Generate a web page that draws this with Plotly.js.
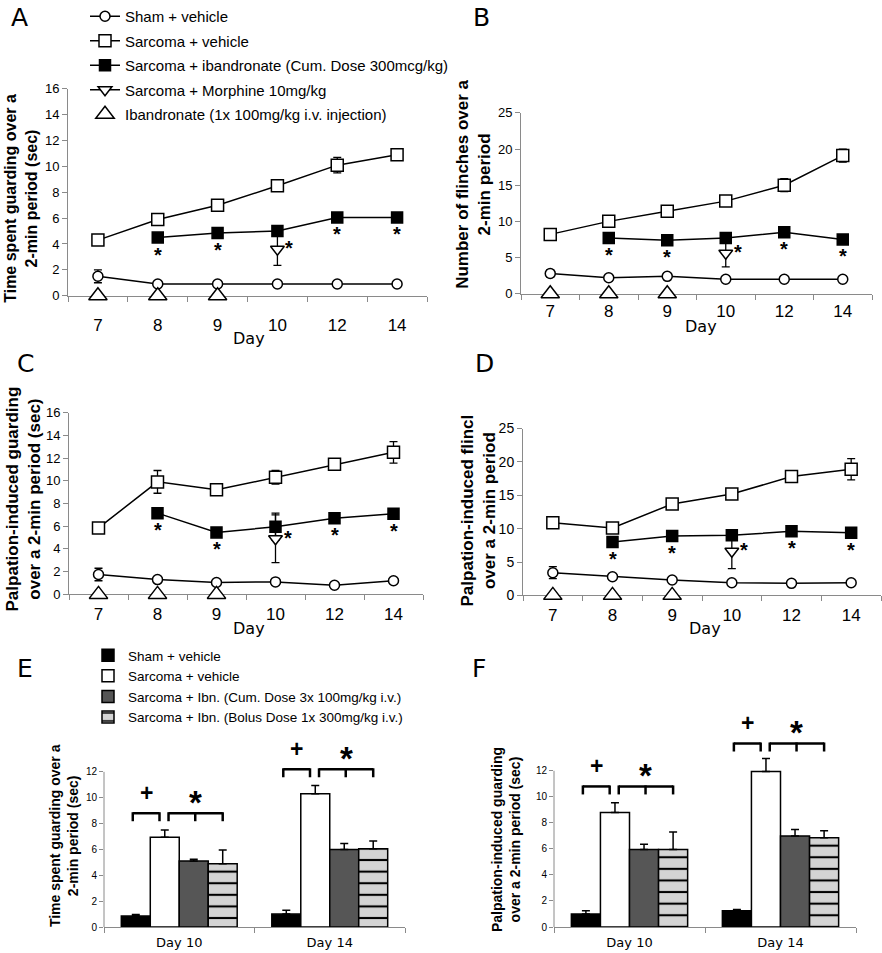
<!DOCTYPE html>
<html><head><meta charset="utf-8">
<script src="https://cdn.plot.ly/plotly-3.0.1.min.js"></script>
<style>html,body{margin:0;padding:0;background:#fff}#chart{width:882px;height:953px}</style>
</head><body><div id="chart"></div>
<script>
// ---------------- data ----------------
const days = ['7', '8', '9', '10', '12', '14'];
const ibnDays = ['8', '9', '10', '12', '14'];
const morphineDay = ['10'];
const injectionDays = ['7', '8', '9'];
const injectionLevel = [0, 0, 0];
const starDays = ['8', '9', '12', '14'];

// Panel A: time spent guarding (sec)
const aSham = [1.5, 0.9, 0.9, 0.9, 0.9, 0.9];
const aShamErr = [0.5, 0.1, 0.1, 0.1, 0.1, 0.2];
const aVeh = [4.3, 5.9, 7.0, 8.5, 10.1, 10.9];
const aVehErr = [0.35, 0.3, 0.4, 0.3, 0.6, 0.35];
const aIbn = [4.5, 4.85, 5.0, 6.05, 6.05];
const aIbnErr = [0.2, 0.2, 0.3, 0.2, 0.2];
const aMor = [3.6];
const aMorErr = [1.25];

// Panel B: number of flinches
const bSham = [2.8, 2.2, 2.4, 2.0, 2.0, 2.0];
const bShamErr = [0.5, 0.2, 0.2, 0.2, 0.2, 0.3];
const bVeh = [8.2, 10.0, 11.4, 12.8, 15.0, 19.1];
const bVehErr = [0.3, 0.4, 0.4, 0.4, 0.9, 0.9];
const bIbn = [7.7, 7.4, 7.7, 8.5, 7.5];
const bIbnErr = [0.3, 0.3, 0.3, 0.3, 0.4];
const bMor = [5.6];
const bMorErr = [1.9];

// Panel C: palpation-induced guarding (sec)
const cSham = [1.75, 1.3, 1.05, 1.1, 0.8, 1.2];
const cShamErr = [0.55, 0.15, 0.1, 0.15, 0.1, 0.15];
const cVeh = [5.85, 9.9, 9.2, 10.3, 11.45, 12.5];
const cVehErr = [0.3, 1.0, 0.45, 0.6, 0.3, 0.95];
const cIbn = [7.15, 5.45, 5.95, 6.7, 7.1];
const cIbnErr = [0.45, 0.3, 1.2, 0.3, 0.3];
const cMor = [4.9];
const cMorErr = [2.1];

// Panel D: palpation-induced flinches
const dSham = [3.4, 2.8, 2.3, 1.9, 1.8, 1.9];
const dShamErr = [0.9, 0.3, 0.3, 0.2, 0.2, 0.2];
const dVeh = [10.9, 10.1, 13.7, 15.2, 17.8, 18.9];
const dVehErr = [0.4, 0.7, 0.5, 0.4, 0.4, 1.6];
const dIbn = [8.0, 8.9, 9.0, 9.6, 9.4];
const dIbnErr = [0.7, 0.3, 0.5, 0.3, 0.3];
const dMor = [6.6];
const dMorErr = [2.6];

// Panels E / F: bar charts
const barDays = ['Day 10', 'Day 14'];
const eSham = [0.85, 1.0];   const eShamErr = [0.12, 0.3];
const eVeh = [6.95, 10.3];   const eVehErr = [0.55, 0.65];
const eCum = [5.1, 6.0];     const eCumErr = [0.15, 0.45];
const eBolus = [4.9, 6.05];  const eBolusErr = [1.05, 0.6];
const eBracket = [8.8, 12.2];

const fSham = [1.0, 1.25];   const fShamErr = [0.25, 0.1];
const fVeh = [8.8, 11.95];   const fVehErr = [0.75, 1.0];
const fCum = [5.95, 7.0];    const fCumErr = [0.4, 0.5];
const fBolus = [5.95, 6.85]; const fBolusErr = [1.35, 0.55];
const fBracket = [10.8, 14.1];

// ---------------- styling / layout ----------------
const W = 882, H = 953;
const ARIAL = 'Liberation Sans, Arial, sans-serif';
const TAHOMA = 'DejaVu Sans, Verdana, sans-serif';
const GREY = '#8a8a8a';
const BARGAP = 0.23;

const xd = (a, b) => [a / W, b / W];
const yd = (top, bottom) => [1 - bottom / H, 1 - top / H];

function mk(symbol, size, fill) { return {symbol, size, color: fill, line: {color: '#000', width: 1.5}}; }
function eb(arr) { return {type: 'data', array: arr, visible: true, color: '#000', thickness: 1.3, width: 4}; }

function lineTraces(n, sham, shamE, veh, vehE, ibn, ibnE, mor, morE, showLeg) {
  const xa = n === 1 ? 'x' : 'x' + n, ya = n === 1 ? 'y' : 'y' + n;
  const common = {type: 'scatter', xaxis: xa, yaxis: ya, cliponaxis: false, legend: 'legend', hoverinfo: 'x+y'};
  return [
    Object.assign({}, common, {mode: 'lines+markers', name: 'Sham + vehicle', legendgroup: 'g1', showlegend: showLeg,
      x: days, y: sham, error_y: eb(shamE), line: {color: '#000', width: 1.5}, marker: mk('circle', 10, '#fff')}),
    Object.assign({}, common, {mode: 'lines+markers', name: 'Sarcoma + vehicle', legendgroup: 'g2', showlegend: showLeg,
      x: days, y: veh, error_y: eb(vehE), line: {color: '#000', width: 1.5}, marker: mk('square', 12, '#fff')}),
    Object.assign({}, common, {mode: 'lines+markers', name: 'Sarcoma + ibandronate (Cum. Dose 300mcg/kg)', legendgroup: 'g3', showlegend: showLeg,
      x: ibnDays, y: ibn, error_y: eb(ibnE), line: {color: '#000', width: 1.5}, marker: mk('square', 11, '#000')}),
    Object.assign({}, common, {mode: 'lines+markers', name: 'Sarcoma + Morphine 10mg/kg', legendgroup: 'g4', showlegend: showLeg,
      x: morphineDay, y: mor, error_y: eb(morE), line: {color: '#000', width: 1.5}, marker: mk('triangle-down', 12, '#fff')}),
    Object.assign({}, common, {mode: 'markers', name: 'Ibandronate (1x 100mg/kg i.v. injection)', legendgroup: 'g5', showlegend: showLeg,
      x: injectionDays, y: injectionLevel, marker: mk('triangle-up', 16, '#fff')})
  ];
}

function barTraces(n, sham, shamE, veh, vehE, cum, cumE, bol, bolE, showLeg) {
  const xa = 'x' + n, ya = 'y' + n;
  const err = arr => ({type: 'data', symmetric: false, array: arr, arrayminus: arr.map(() => 0), color: '#000', thickness: 1.5, width: 4});
  const common = {type: 'bar', xaxis: xa, yaxis: ya, x: barDays, legend: 'legend2', showlegend: showLeg};
  return [
    Object.assign({}, common, {name: 'Sham + vehicle', legendgroup: 'b1', y: sham, error_y: err(shamE),
      marker: {color: '#000', line: {color: '#000', width: 1.5}}}),
    Object.assign({}, common, {name: 'Sarcoma + vehicle', legendgroup: 'b2', y: veh, error_y: err(vehE),
      marker: {color: '#fff', line: {color: '#000', width: 1.5}}}),
    Object.assign({}, common, {name: 'Sarcoma + Ibn. (Cum. Dose 3x 100mg/kg i.v.)', legendgroup: 'b3', y: cum, error_y: err(cumE),
      marker: {color: '#565656', line: {color: '#000', width: 1.5}}}),
    Object.assign({}, common, {name: 'Sarcoma + Ibn. (Bolus Dose 1x 300mg/kg i.v.)', legendgroup: 'b4', y: bol, error_y: err(bolE),
      marker: {color: '#d4d4d4', line: {color: '#000', width: 1.5},
        pattern: {shape: '-', fgcolor: '#000', bgcolor: '#d4d4d4', fgopacity: 1, size: 11.6, solidity: 0.18}}})
  ];
}

const data = [].concat(
  lineTraces(1, aSham, aShamErr, aVeh, aVehErr, aIbn, aIbnErr, aMor, aMorErr, true),
  lineTraces(2, bSham, bShamErr, bVeh, bVehErr, bIbn, bIbnErr, bMor, bMorErr, false),
  lineTraces(3, cSham, cShamErr, cVeh, cVehErr, cIbn, cIbnErr, cMor, cMorErr, false),
  lineTraces(4, dSham, dShamErr, dVeh, dVehErr, dIbn, dIbnErr, dMor, dMorErr, false),
  barTraces(5, eSham, eShamErr, eVeh, eVehErr, eCum, eCumErr, eBolus, eBolusErr, true),
  barTraces(6, fSham, fShamErr, fVeh, fVehErr, fCum, fCumErr, fBolus, fBolusErr, false)
);

// axes
function xCat(domain, anchor, standoff) {
  return {domain, anchor, type: 'category', categoryorder: 'array', categoryarray: days, range: [-0.5, 5.5],
    tickson: 'boundaries', ticks: 'outside', ticklen: 5, tickcolor: GREY, showline: true, linecolor: GREY, linewidth: 1,
    showgrid: false, zeroline: false, layer: 'below traces', ticklabelstandoff: standoff,
    tickfont: {family: ARIAL, size: 17, color: '#000'}, fixedrange: true};
}
function yLin(domain, anchor, max, dtick, fs) {
  return {domain, anchor, range: [0, max], tick0: 0, dtick, ticks: 'outside', ticklen: 5, tickcolor: GREY,
    showline: true, linecolor: GREY, linewidth: 1, showgrid: false, zeroline: false,
    tickfont: {family: ARIAL, size: fs, color: '#000'}, fixedrange: true};
}
function xBar(domain, anchor) {
  return {domain, anchor, type: 'category', categoryorder: 'array', categoryarray: barDays, range: [-0.5, 1.5],
    tickson: 'boundaries', ticks: 'outside', ticklen: 5, tickcolor: GREY, showline: true, linecolor: GREY, linewidth: 1,
    showgrid: false, zeroline: false, ticklabelstandoff: 3, tickfont: {family: TAHOMA, size: 13, color: '#000'}, fixedrange: true};
}
function yBar(domain, anchor, max) {
  return {domain, anchor, range: [0, max], tickvals: [0, 2, 4, 6, 8, 10, 12], ticks: 'outside', ticklen: 4, tickcolor: GREY,
    showline: false, showgrid: false, zeroline: false, tickfont: {family: ARIAL, size: 10, color: '#000'}, fixedrange: true};
}

const domA = {x: xd(68, 427), y: yd(88, 295)};
const domB = {x: xd(521, 872), y: yd(112, 293)};
const domC = {x: xd(69, 423), y: yd(412, 594)};
const domD = {x: xd(523, 881), y: yd(428, 595)};
const domE = {x: xd(104, 405), y: yd(738, 927)};
const domF = {x: xd(554, 856), y: yd(712, 927)};
const eMax = 14.6, fMax = 16.5;

const annotations = [];
const shapes = [];
function paperText(text, px, py, size, family, bold, angle) {
  annotations.push({text, xref: 'paper', yref: 'paper', x: px / W, y: 1 - py / H, xanchor: 'center', yanchor: 'middle',
    showarrow: false, textangle: angle || 0, font: {family, size, color: '#000', weight: bold ? 'bold' : 'normal'}});
}
// panel letters
paperText('A', 19, 17, 25, TAHOMA); paperText('B', 481, 17, 25, TAHOMA);
paperText('C', 25, 363, 25, TAHOMA); paperText('D', 484, 363, 25, TAHOMA);
paperText('E', 25, 668, 25, TAHOMA); paperText('F', 479, 668, 25, TAHOMA);
// y titles
paperText('Time spent guarding over a<br>2-min period (sec)', 21, 198, 16, ARIAL, true, -90);
paperText('Number of flinches over a<br>2-min period', 474, 184, 17, ARIAL, true, -90);
paperText('Palpation-induced guarding<br>over a 2-min period (sec)', 23, 499, 17, ARIAL, true, -90);
paperText('Palpation-induced flincl<br>over a 2-min period', 478, 510, 17, ARIAL, true, -90);
paperText('Time spent guarding over a<br>2-min period (sec)', 64, 836, 14, ARIAL, true, -90);
paperText('Palpation-induced guarding<br>over a 2-min period (sec)', 506, 840, 14, ARIAL, true, -90);
// x titles
paperText('Day', 249, 338, 16, TAHOMA); paperText('Day', 701, 326, 16, TAHOMA);
paperText('Day', 249, 628, 16, TAHOMA); paperText('Day', 705, 628, 16, TAHOMA);

// significance stars on line panels (x given as category index)
function stars(n, ibn, mor) {
  const xa = n === 1 ? 'x' : 'x' + n, ya = n === 1 ? 'y' : 'y' + n;
  starDays.forEach(d => {
    annotations.push({text: '*', xref: xa, yref: ya, x: days.indexOf(d), y: ibn[ibnDays.indexOf(d)], yshift: -17, showarrow: false,
      font: {family: ARIAL, size: 20, color: '#000', weight: 'bold'}});
  });
  annotations.push({text: '*', xref: xa, yref: ya, x: days.indexOf(morphineDay[0]), y: mor[0], xshift: 12, yshift: 1, showarrow: false,
    font: {family: ARIAL, size: 20, color: '#000', weight: 'bold'}});
}
stars(1, aIbn, aMor); stars(2, bIbn, bMor); stars(3, cIbn, cMor); stars(4, dIbn, dMor);

// brackets on bar panels
function brackets(n, levels) {
  const xa = 'x' + n, ya = 'y' + n;
  const w = (1 - BARGAP) / 4;
  const bc = (g, i) => g + (i - 1.5) * w;
  const ln = {color: '#000', width: 2.5};
  const hline = (a, b, L) => shapes.push({type: 'line', xref: xa, yref: ya, x0: a, x1: b, y0: L, y1: L, line: ln});
  const tick = (a, L) => shapes.push({type: 'line', xref: xa, yref: ya, ysizemode: 'pixel', yanchor: L, x0: a, x1: a, y0: 1, y1: -8, line: ln});
  levels.forEach((L, g) => {
    const pa = bc(g, 0) - 0.02, pb = bc(g, 1) - 0.035;
    hline(pa, pb, L); tick(pa, L); tick(pb, L);
    const sa = bc(g, 1) + 0.025, sb = bc(g, 3), sm = bc(g, 2) + 0.01;
    hline(sa, sb, L); tick(sa, L); tick(sm, L); tick(sb, L);
    annotations.push({text: '+', xref: xa, yref: ya, x: (pa + pb) / 2, y: L, yshift: 20, showarrow: false,
      font: {family: ARIAL, size: 23, color: '#000', weight: 'bold'}});
    annotations.push({text: '*', xref: xa, yref: ya, x: (sa + sb) / 2, y: L, yshift: 11, showarrow: false,
      font: {family: ARIAL, size: 33, color: '#000', weight: 'bold'}});
  });
}
brackets(5, eBracket); brackets(6, fBracket);

// y axis lines of bar panels (only up to 12)
function yAxisLine(dom, max) {
  shapes.push({type: 'line', xref: 'paper', yref: 'paper', x0: dom.x[0], x1: dom.x[0], y0: dom.y[0],
    y1: dom.y[0] + (12 / max) * (dom.y[1] - dom.y[0]), line: {color: GREY, width: 1}});
}
yAxisLine(domE, eMax); yAxisLine(domF, fMax);

const layout = {
  width: W, height: H, margin: {l: 0, r: 0, t: 0, b: 0}, paper_bgcolor: '#fff', plot_bgcolor: 'rgba(0,0,0,0)',
  showlegend: true, barmode: 'group', bargap: BARGAP, bargroupgap: 0,
  font: {family: ARIAL, color: '#000'},
  xaxis: xCat(domA.x, 'y', 14), yaxis: yLin(domA.y, 'x', 16, 2, 13),
  xaxis2: xCat(domB.x, 'y2', 2), yaxis2: yLin(domB.y, 'x2', 25, 5, 13),
  xaxis3: xCat(domC.x, 'y3', 4), yaxis3: yLin(domC.y, 'x3', 16, 2, 13),
  xaxis4: xCat(domD.x, 'y4', 4), yaxis4: yLin(domD.y, 'x4', 25, 5, 14),
  xaxis5: xBar(domE.x, 'y5'), yaxis5: yBar(domE.y, 'x5', eMax),
  xaxis6: xBar(domF.x, 'y6'), yaxis6: yBar(domF.y, 'x6', fMax),
  legend: {x: 85 / W, y: 1 + 1.25 / H, xanchor: 'left', yanchor: 'top', bgcolor: 'rgba(0,0,0,0)',
    font: {family: ARIAL, size: 15, color: '#000'}, tracegroupgap: 2, itemwidth: 30},
  legend2: {x: 88 / W, y: 1 - 640 / H, xanchor: 'left', yanchor: 'top', bgcolor: 'rgba(0,0,0,0)',
    font: {family: ARIAL, size: 13.5, color: '#000'}, tracegroupgap: 0, itemwidth: 30},
  annotations, shapes
};

Plotly.newPlot('chart', data, layout, {displayModeBar: false, staticPlot: true});
</script>
</body></html>
